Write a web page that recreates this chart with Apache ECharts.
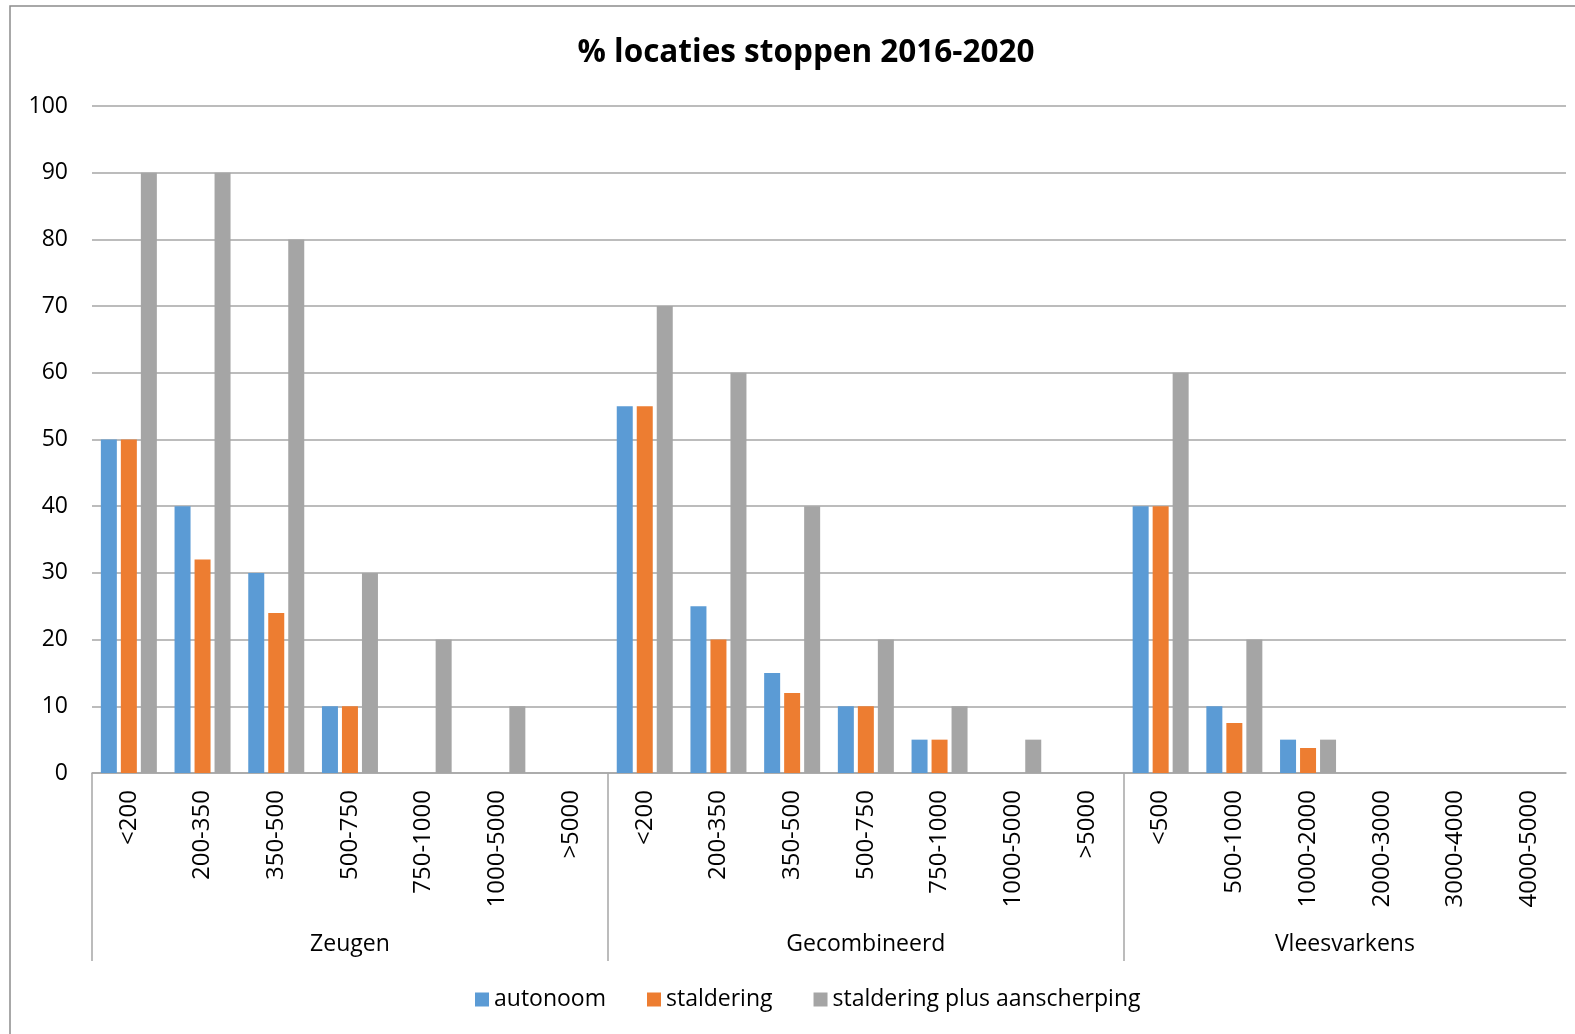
<!DOCTYPE html>
<html>
<head>
<meta charset="utf-8">
<script src="https://cdn.jsdelivr.net/npm/echarts@6/dist/echarts.min.js"></script>
<style>
html,body{margin:0;padding:0;background:#fff;}
#chart{width:1575px;height:1034px;}
</style>
</head>
<body>
<div id="chart"></div>
<script>
// ---- data ----
const groupNames = ['Zeugen', 'Gecombineerd', 'Vleesvarkens'];
const zeugenCats = ['<200', '200-350', '350-500', '500-750', '750-1000', '1000-5000', '>5000'];
const gecombCats = ['<200', '200-350', '350-500', '500-750', '750-1000', '1000-5000', '>5000'];
const vleesCats = ['<500', '500-1000', '1000-2000', '2000-3000', '3000-4000', '4000-5000'];

const seriesNames = ['autonoom', 'staldering', 'staldering plus aanscherping'];
const autonoom = [50, 40, 30, 10, 0, 0, 0,   55, 25, 15, 10, 5, 0, 0,   40, 10, 5, 0, 0, 0];
const staldering = [50, 32, 24, 10, 0, 0, 0,   55, 20, 12, 10, 5, 0, 0,   40, 7.5, 3.75, 0, 0, 0];
const stalderingPlus = [90, 90, 80, 30, 20, 10, 0,   70, 60, 40, 20, 10, 5, 0,   60, 20, 5, 0, 0, 0];

const yTicks = [0, 10, 20, 30, 40, 50, 60, 70, 80, 90, 100];

// ---- derived ----
const groupCats = [zeugenCats, gecombCats, vleesCats];
const categories = [].concat(...groupCats);
const boundaries = [];
let acc = 0;
groupCats.forEach(g => { boundaries.push(acc); acc += g.length; });
// group label axis: half-category positions (2N+1 points, no boundary gap)
const groupAxisData = new Array(categories.length * 2 + 1).fill('');
groupCats.forEach((g, i) => { groupAxisData[boundaries[i] * 2 + g.length] = groupNames[i]; });
const separatorIdx = boundaries.map(b => b * 2);

const FONT = "'Open Sans', sans-serif";
const colors = ['#5B9BD5', '#ED7D31', '#A5A5A5'];
const values = [autonoom, staldering, stalderingPlus];

const chart = echarts.init(document.getElementById('chart'));
chart.setOption({
  animation: false,
  backgroundColor: '#ffffff',
  title: {
    text: '% locaties stoppen 2016-2020',
    left: 801,
    top: 32,
    textAlign: 'center',
    textStyle: { fontFamily: FONT, fontSize: 31.5, fontWeight: 'bold', color: '#000' }
  },
  graphic: [{
    type: 'rect',
    shape: { x: 10, y: 6, width: 1600, height: 1100 },
    style: { fill: 'none', stroke: '#8c8c8c', lineWidth: 1.5 },
    silent: true, z: -1
  }],
  legend: {
    data: seriesNames,
    left: 470,
    top: 983,
    itemWidth: 14,
    itemHeight: 14,
    itemGap: 41,
    icon: 'rect',
    textStyle: { fontFamily: FONT, fontSize: 23, color: '#000' }
  },
  grid: { left: 92, right: 9, top: 106, bottom: 261, containLabel: false },
  xAxis: [{
    type: 'category',
    data: categories,
    position: 'bottom',
    boundaryGap: true,
    axisLine: { show: true, lineStyle: { color: '#a6a6a6', width: 1.5 } },
    axisTick: { show: false },
    axisLabel: {
      interval: 0,
      rotate: 90,
      margin: 17,
      fontFamily: FONT,
      fontSize: 24,
      color: '#000'
    },
    splitLine: { show: false }
  }, {
    type: 'category',
    data: groupAxisData,
    position: 'bottom',
    offset: 0,
    boundaryGap: false,
    axisLine: { show: false },
    axisTick: {
      show: true,
      inside: false,
      length: 188,
      interval: function (index) { return separatorIdx.indexOf(index) >= 0; },
      lineStyle: { color: '#a6a6a6', width: 1.5 }
    },
    axisLabel: {
      interval: 0,
      margin: 160,
      fontFamily: FONT,
      fontSize: 23,
      color: '#000'
    },
    splitLine: { show: false }
  }],
  yAxis: {
    type: 'value',
    min: yTicks[0],
    max: yTicks[yTicks.length - 1],
    interval: yTicks[1] - yTicks[0],
    axisLine: { show: false },
    axisTick: { show: false },
    axisLabel: { margin: 24, fontFamily: FONT, fontSize: 23, color: '#000' },
    splitLine: { show: true, lineStyle: { color: '#a6a6a6', width: 1.5 } }
  },
  series: seriesNames.map((name, i) => ({
    name: name,
    type: 'bar',
    xAxisIndex: 0,
    data: values[i],
    barWidth: 16,
    barGap: '25%',
    itemStyle: { color: colors[i] }
  }))
});
</script>
</body>
</html>
